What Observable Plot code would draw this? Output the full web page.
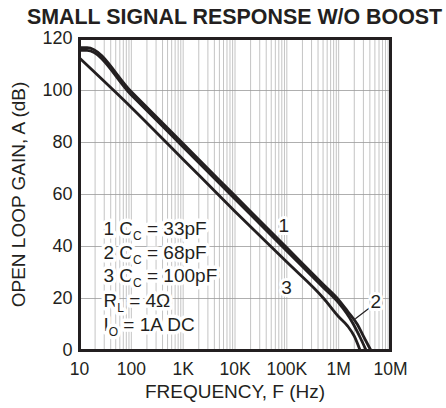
<!DOCTYPE html>
<html><head><meta charset="utf-8">
<script src="https://cdn.jsdelivr.net/npm/d3@7"></script>
<script src="https://cdn.jsdelivr.net/npm/@observablehq/plot@0.6"></script>
<style>
body{margin:0;background:#fff;font-family:"Liberation Sans",Arial,sans-serif;}
#title{height:30px;line-height:35px;font-weight:bold;font-size:21.4px;text-align:left;padding-left:27px;color:#231f20;white-space:nowrap;}
#chart svg{display:block;}
</style></head><body>
<div id="title">SMALL SIGNAL RESPONSE W/O BOOST</div>
<div id="chart"></div>
<script>
// Curve 1: Cc = 33pF
const freq1 = [10, 14, 100, 1e3, 1e4, 1e5, 5e5, 1e6, 1.5e6, 2.3e6, 3e6, 3.6e6, 4.2e6];
const gain1 = [116.5, 116.5, 99.5, 79.5, 59.5, 39.5, 25.5, 19.5, 15, 10, 5.5, 2.5, 0];
// Curve 2: Cc = 68pF
const freq2 = [10, 14, 100, 1e3, 1e4, 1e5, 5e5, 1e6, 1.4e6, 1.9e6, 2.6e6, 3.4e6];
const gain2 = [115.4, 115.4, 98.3, 78.3, 58.3, 38.3, 24.3, 18.3, 14.5, 10.3, 5, 0];
// Curve 3: Cc = 100pF
const freq3 = [10, 100, 1e3, 1e4, 1e5, 5.15e5, 1e6, 1.48e6, 2e6, 2.6e6];
const gain3 = [112.5, 93.5, 73.5, 53.5, 34, 20, 13, 9.5, 5.5, 0];

const xTicks = [10, 100, 1e3, 1e4, 1e5, 1e6, 1e7];
const xTickLabels = ["10", "100", "1K", "10K", "100K", "1M", "10M"];
const yTicks = [0, 20, 40, 60, 80, 100, 120];
const yGrid = [20, 40, 60, 80, 100];

const legendLines = ["1 C_C = 33pF", "2 C_C = 68pF", "3 C_C = 100pF", "R_L = 4Ω", "I_O = 1A DC"];
const legendFreq = [29, 29, 29, 29, 29];
const legendGain = [46.9, 37.7, 28.5, 19.2, 10];

const curveLabels = ["1", "3", "2"];
const curveLabelFreq = [87e3, 99e3, 5.2e6];
const curveLabelGain = [48, 24.2, 18.5];

const leaderFreq = [2.13e6, 4.15e6];
const leaderGain = [12.3, 16.7];

const xLabel = "FREQUENCY, F (Hz)";
const yLabel = "OPEN LOOP GAIN, A (dB)";

const ink = "#231f20";
const toPts = (f, g) => f.map((d, i) => ({x: d, y: g[i]}));
const minorGrid = xTicks.slice(0, -1).flatMap(d => [1,2,3,4,5,6,7,8,9].map(k => d * k)).concat([xTicks[xTicks.length - 1]]);

const chart = Plot.plot({
  width: 446, height: 378,
  marginLeft: 79, marginRight: 56, marginTop: 8, marginBottom: 58,
  x: {type: "log", domain: [10, 1e7]},
  y: {domain: [0, 120]},
  style: {fontFamily: '"Liberation Sans", Arial, sans-serif', fontSize: "18px", color: ink, background: "white", overflow: "visible"},
  marks: [
    Plot.ruleX(minorGrid, {stroke: "#c4c4c4", strokeWidth: 1}),
    Plot.ruleY(yGrid, {stroke: "#9a9a9a", strokeWidth: 0.8}),
    Plot.line(toPts(freq3, gain3), {x: "x", y: "y", stroke: ink, strokeWidth: 2.8, curve: "monotone-x"}),
    Plot.line(toPts(freq2, gain2), {x: "x", y: "y", stroke: ink, strokeWidth: 2.8, curve: "monotone-x"}),
    Plot.line(toPts(freq1, gain1), {x: "x", y: "y", stroke: ink, strokeWidth: 2.8, curve: "monotone-x"}),
    Plot.line(toPts(leaderFreq, leaderGain), {x: "x", y: "y", stroke: ink, strokeWidth: 1.2}),
    Plot.text(curveLabels, {x: (d, i) => curveLabelFreq[i], y: (d, i) => curveLabelGain[i], text: d => d,
      fill: ink, stroke: "white", strokeWidth: 6, fontSize: 19}),
    Plot.text(legendLines, {x: (d, i) => legendFreq[i], y: (d, i) => legendGain[i], text: d => d,
      textAnchor: "start", fill: ink, stroke: "white", strokeWidth: 7, fontSize: 19}),
    Plot.frame({stroke: ink, strokeWidth: 3}),
    Plot.axisX(xTicks, {tickSize: 0, tickPadding: 12, fontSize: 17.5, label: null,
      tickFormat: d => xTickLabels[xTicks.indexOf(d)]}),
    Plot.axisY(yTicks, {tickSize: 0, tickPadding: 7, fontSize: 18, label: null}),
    Plot.text([xLabel], {frameAnchor: "bottom", dy: 41, lineAnchor: "middle", textAnchor: "middle", fontSize: 19, fill: ink, text: d => d}),
    Plot.text([yLabel], {frameAnchor: "left", dx: -61, rotate: -90, textAnchor: "middle", lineAnchor: "middle", fontSize: 19, fill: ink, text: d => d})
  ]
});
document.getElementById("chart").appendChild(chart);

// turn "X_Y" into subscripts
const NS = "http://www.w3.org/2000/svg";
chart.querySelectorAll("text").forEach(t => {
  const s = t.textContent;
  const m = s.match(/^(.*?)_(.)(.*)$/);
  if (!m) return;
  while (t.firstChild) t.removeChild(t.firstChild);
  const a = document.createElementNS(NS, "tspan"); a.textContent = m[1];
  const b = document.createElementNS(NS, "tspan"); b.textContent = m[2];
  b.setAttribute("font-size", "12"); b.setAttribute("dy", "5");
  const c = document.createElementNS(NS, "tspan"); c.textContent = m[3];
  c.setAttribute("dy", "-5");
  t.appendChild(a); t.appendChild(b); t.appendChild(c);
});
</script>
</body></html>
